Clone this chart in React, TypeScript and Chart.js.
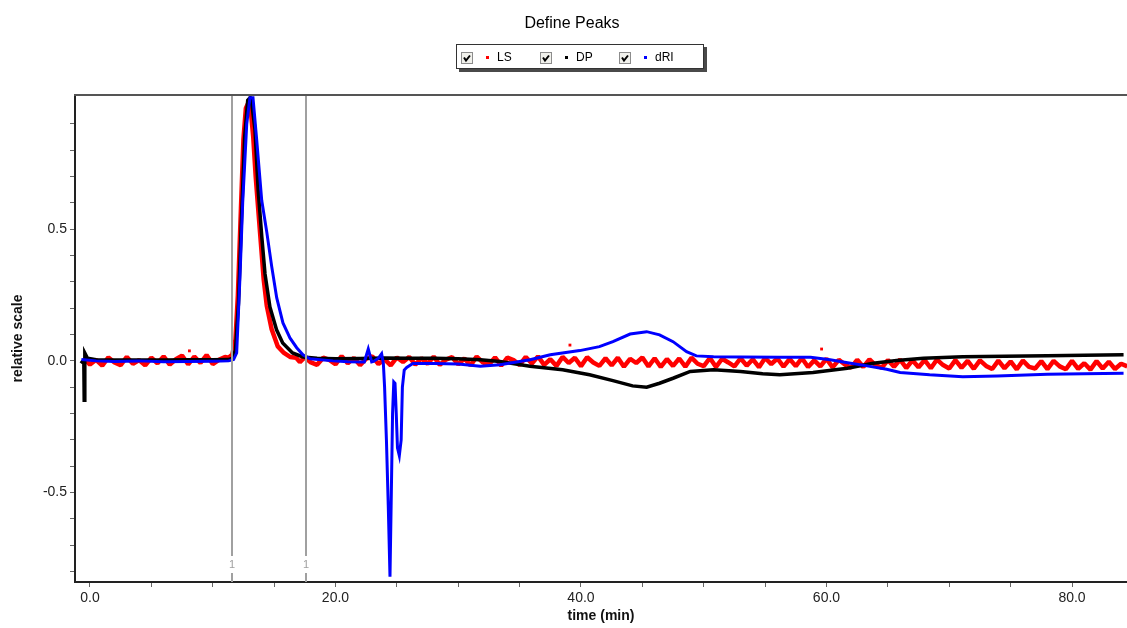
import React, { useEffect, useRef } from 'react';
import { Chart, registerables } from 'chart.js';

Chart.register(...registerables);

const chartTitle = 'Define Peaks';
const seriesNames = ['LS', 'DP', 'dRI'];
const seriesColors = ['#ff0000', '#000000', '#0000ff'];
const xAxisTitle = 'time (min)';
const yAxisTitle = 'relative scale';
const xTickValues = [0, 5, 10, 15, 20, 25, 30, 35, 40, 45, 50, 55, 60, 65, 70, 75, 80];
const yTickValues = [-0.8, -0.7, -0.6, -0.5, -0.4, -0.3, -0.2, -0.1, 0, 0.1, 0.2, 0.3, 0.4, 0.5, 0.6, 0.7, 0.8, 0.9];
const peakBoundaries = [11.55, 17.6];
const peakLabels = ['1', '1'];

// dRI (blue)
const driTime = [-0.7, 0.5, 2, 4, 6, 8, 10, 11.3, 11.7, 11.95, 12.22, 12.44, 12.77, 13.03, 13.28, 13.58, 13.99, 14.4, 14.8, 15.21, 15.72, 16.29, 16.84, 17.35, 17.92, 19.8, 21, 22.35, 22.67, 22.95, 23.1, 23.5, 23.76, 23.9, 24.0, 24.15, 24.3, 24.44, 24.55, 24.65, 24.75, 24.85, 24.95, 25.05, 25.2, 25.35, 25.45, 25.6, 25.8, 26.3, 28, 30, 31.8, 33.4, 35.85, 37.5, 39.9, 41.5, 42.6, 44, 45.35, 46.4, 47.5, 48.6, 49.4, 50.8, 53, 56.2, 58.7, 60.3, 61.6, 63.3, 64.9, 66, 68.4, 71.1, 73.9, 78, 81, 84.2];
const driValue = [0.005, 0.0, -0.002, 0.0, -0.003, -0.002, -0.001, 0.0, 0.005, 0.03, 0.32, 0.6, 0.9, 1.0, 1.0, 0.84, 0.61, 0.49, 0.36, 0.24, 0.144, 0.087, 0.05, 0.023, 0.008, 0.0, -0.003, -0.004, 0.045, -0.004, -0.002, 0.01, 0.027, -0.01, -0.1, -0.3, -0.55, -0.82, -0.5, -0.2, -0.08, -0.085, -0.2, -0.33, -0.36, -0.3, -0.1, -0.035, -0.025, -0.01, -0.01, -0.012, -0.02, -0.015, 0.004, 0.023, 0.039, 0.054, 0.073, 0.102, 0.111, 0.099, 0.073, 0.035, 0.019, 0.016, 0.015, 0.014, 0.014, 0.004, -0.006, -0.019, -0.032, -0.044, -0.053, -0.06, -0.057, -0.051, -0.049, -0.047];

// DP (black)
const dpTime = [-0.75, -0.5, -0.47, -0.42, -0.2, 0.5, 2, 4, 6, 8, 10, 11.3, 11.6, 11.85, 12.1, 12.35, 12.6, 12.85, 13.05, 13.2, 13.44, 13.7, 14.0, 14.26, 14.66, 15.2, 15.7, 16.5, 17.35, 18.5, 20, 22, 24, 26, 28, 30, 31.8, 33.4, 35.85, 38.5, 40.7, 42.6, 44.2, 45.35, 46.4, 47.5, 48.9, 50.8, 53, 54.8, 56.2, 58.9, 61.7, 63.8, 65.7, 67.9, 71.1, 74.5, 78, 81, 84.2];
const dpValue = [0.0, -0.01, -0.15, 0.03, 0.01, 0.004, 0.003, 0.003, 0.003, 0.004, 0.004, 0.005, 0.01, 0.04, 0.22, 0.55, 0.85, 0.99, 1.0, 0.97, 0.88, 0.65, 0.47, 0.33, 0.205, 0.118, 0.068, 0.03, 0.015, 0.01, 0.008, 0.009, 0.011, 0.01, 0.01, 0.008, 0.004, -0.002, -0.02, -0.034, -0.053, -0.075, -0.095, -0.1, -0.085, -0.066, -0.04, -0.034, -0.04, -0.049, -0.053, -0.044, -0.028, -0.009, 0.001, 0.01, 0.016, 0.018, 0.019, 0.021, 0.023];

// LS (red)
const lsTime = [
  -0.5, 0, 0.5, 1, 1.5, 2, 2.5, 3, 3.5, 4, 4.5, 5, 5.5, 6, 6.5, 7, 7.5, 8, 8.5, 9, 9.5, 10, 10.5, 11,
  11.3, 11.6, 11.85, 12.05, 12.3, 12.5, 12.7, 12.9, 13.1, 13.3, 13.5, 13.75, 13.95, 14.15, 14.4, 14.8, 15.3, 15.8, 16.3, 16.8, 17.1,
  17.5, 18, 18.5, 19, 19.5, 20, 20.5, 21, 21.5, 22,
  22.5, 23, 23.5, 24, 24.5, 25, 25.5, 26, 26.5, 27,
  27.5, 28, 28.5, 29, 29.5, 30, 30.5, 31, 31.5, 32,
  32.5, 33, 33.5, 34, 34.5, 35, 35.5, 36, 36.5, 37,
  37.5, 38, 38.5, 39, 39.5, 40, 40.5, 41, 41.5, 42,
  42.5, 43, 43.5, 44, 44.5, 45, 45.5, 46, 46.5, 47,
  47.5, 48, 48.5, 49, 49.5, 50, 50.5, 51, 51.5, 52,
  52.5, 53, 53.5, 54, 54.5, 55, 55.5, 56, 56.5, 57,
  57.5, 58, 58.5, 59, 59.5, 60, 60.5, 61, 61.5, 62,
  62.5, 63, 63.5, 64, 64.5, 65, 65.5, 66, 66.5, 67,
  67.5, 68, 68.5, 69, 69.5, 70, 70.5, 71, 71.5, 72,
  72.5, 73, 73.5, 74, 74.5, 75, 75.5, 76, 76.5, 77,
  77.5, 78, 78.5, 79, 79.5, 80, 80.5, 81, 81.5, 82,
  82.5, 83, 83.5, 84, 84.5,
];
const lsValue = [
  0.01, -0.014, 0.004, -0.018, 0.013, -0.006, -0.016, 0.015, -0.011, 0.003, -0.017, 0.012, -0.009, 0.017, -0.014, 0.006, 0.02, -0.013, 0.016, -0.008, 0.022, -0.012, 0.004, 0.015,
  0.012, 0.025, 0.08, 0.25, 0.58, 0.84, 0.96, 0.98, 0.95, 0.85, 0.7, 0.55, 0.43, 0.31, 0.21, 0.12, 0.055, 0.03, 0.015, 0.012, -0.005,
  0.014, -0.006, -0.015, 0.012, 0.004, -0.013, 0.018, -0.009, 0.011, -0.016,
  0.008, 0.017, -0.012, 0.006, -0.017, 0.013, -0.004, 0.015, -0.014, 0.01,
  -0.011, 0.016, -0.015, 0.005, 0.014, -0.013, 0.009, -0.017, 0.016, -0.006,
  -0.014, 0.013, -0.018, 0.012, 0.003, -0.016, 0.015, -0.01, 0.017, -0.015,
  0.006, -0.019, 0.015, -0.008, 0.012, -0.02, 0.014, -0.006, -0.019, 0.01,
  -0.017, 0.012, -0.022, 0.008, -0.008, 0.013, -0.021, 0.01, -0.023, 0.007,
  -0.019, 0.009, -0.022, 0.012, -0.011, -0.02, 0.011, -0.023, 0.008, -0.006,
  -0.021, 0.01, -0.018, 0.006, -0.024, 0.011, -0.012, 0.009, -0.022, 0.007,
  -0.02, 0.01, -0.023, 0.002, -0.021, 0.008, -0.025, 0.004, -0.014, -0.026,
  0.004, -0.023, 0.006, -0.017, -0.026, 0.003, -0.022, 0.005, -0.027, 0.002,
  -0.024, 0.003, -0.028, 0.005, -0.016, -0.029, 0.003, -0.026, 0.0, -0.03,
  0.002, -0.019, -0.031, 0.001, -0.028, -0.002, -0.032, 0.001, -0.023, -0.029,
  -0.001, -0.031, 0.0, -0.021, -0.032, 0.0, -0.03, -0.009, -0.033, -0.001,
  -0.029, -0.003, -0.031, -0.011, -0.021,
];
const lsOutlierTime = [8.1, 39.1, 59.6];
const lsOutlierValue = [0.038, 0.06, 0.045];

const FONT = '"Liberation Sans", Arial, sans-serif';

const toPoints = (xs: number[], ys: number[]) => xs.map((x, i) => ({ x, y: ys[i] }));

const decorPlugin = {
  id: 'decor',
  beforeDraw(chart: any) {
    const { ctx, width, height } = chart;
    ctx.save();
    ctx.fillStyle = '#ffffff';
    ctx.fillRect(0, 0, width, height);
    ctx.restore();
  },
  afterDatasetsDraw(chart: any) {
    const { ctx, chartArea, scales } = chart;
    ctx.save();
    peakBoundaries.forEach((t, i) => {
      const x = Math.round(scales.x.getPixelForValue(t));
      ctx.strokeStyle = '#a0a0a0';
      ctx.lineWidth = 2;
      ctx.beginPath();
      ctx.moveTo(x, chartArea.top);
      ctx.lineTo(x, chartArea.bottom - 26);
      ctx.moveTo(x, chartArea.bottom - 9);
      ctx.lineTo(x, chartArea.bottom);
      ctx.stroke();
      ctx.fillStyle = '#a0a0a0';
      ctx.font = `11px ${FONT}`;
      ctx.textAlign = 'center';
      ctx.textBaseline = 'middle';
      ctx.fillText(peakLabels[i], x, chartArea.bottom - 17);
    });
    ctx.strokeStyle = '#555555';
    ctx.lineWidth = 2;
    ctx.beginPath();
    ctx.moveTo(chartArea.left - 1, chartArea.top);
    ctx.lineTo(chartArea.right, chartArea.top);
    ctx.stroke();
    ctx.restore();
  },
  afterDraw(chart: any) {
    const { ctx } = chart;
    ctx.save();
    ctx.fillStyle = '#000';
    ctx.font = `16px ${FONT}`;
    ctx.textAlign = 'center';
    ctx.textBaseline = 'middle';
    ctx.fillText(chartTitle, 572, 24);
    const lx = 456, ly = 44, lw = 248, lh = 25;
    ctx.fillStyle = '#4a4a4a';
    ctx.fillRect(lx + 3, ly + 3, lw, lh);
    ctx.fillStyle = '#ffffff';
    ctx.fillRect(lx, ly, lw, lh);
    ctx.strokeStyle = '#333333';
    ctx.lineWidth = 1;
    ctx.strokeRect(lx + 0.5, ly + 0.5, lw - 1, lh - 1);
    seriesNames.forEach((name, i) => {
      const cb = 461 + i * 79;
      const cy = 52;
      ctx.fillStyle = '#f1f1ec';
      ctx.fillRect(cb, cy, 12, 12);
      ctx.strokeStyle = '#8c8c8c';
      ctx.lineWidth = 1;
      ctx.strokeRect(cb + 0.5, cy + 0.5, 11, 11);
      ctx.strokeStyle = '#000';
      ctx.lineWidth = 2;
      ctx.beginPath();
      ctx.moveTo(cb + 3, cy + 5.5);
      ctx.lineTo(cb + 5, cy + 8.5);
      ctx.lineTo(cb + 9, cy + 3.5);
      ctx.stroke();
      ctx.fillStyle = seriesColors[i];
      ctx.fillRect(486 + i * 79, 56, 3, 3);
      ctx.fillStyle = '#000';
      ctx.font = `12px ${FONT}`;
      ctx.textAlign = 'left';
      ctx.textBaseline = 'middle';
      ctx.fillText(name, 497 + i * 79, 58);
    });
    ctx.restore();
  },
};

export default function App() {
  const canvasRef = useRef<HTMLCanvasElement | null>(null);

  useEffect(() => {
    if (!canvasRef.current) return;
    const chart = new Chart(canvasRef.current, {
      type: 'scatter',
      data: {
        datasets: [
          {
            label: seriesNames[2],
            data: toPoints(driTime, driValue),
            showLine: true,
            borderColor: seriesColors[2],
            borderWidth: 3,
            pointRadius: 0,
            tension: 0,
          },
          {
            label: seriesNames[1],
            data: toPoints(dpTime, dpValue),
            showLine: true,
            borderColor: seriesColors[1],
            borderWidth: 3.5,
            pointRadius: 0,
            tension: 0,
          },
          {
            label: seriesNames[0],
            data: toPoints(lsTime, lsValue),
            showLine: true,
            borderColor: seriesColors[0],
            borderWidth: 4.5,
            borderJoinStyle: 'bevel',
            pointRadius: 0,
            tension: 0,
          },
          {
            label: seriesNames[0] + ' outliers',
            data: toPoints(lsOutlierTime, lsOutlierValue),
            showLine: false,
            backgroundColor: seriesColors[0],
            borderWidth: 0,
            pointStyle: 'rect',
            pointRadius: 2,
          },
        ],
      },
      options: {
        animation: false,
        responsive: false,
        layout: { autoPadding: false, padding: { top: 95, left: 0, right: 0, bottom: 0 } },
        plugins: {
          legend: { display: false },
          tooltip: { enabled: false },
          title: { display: false },
        },
        scales: {
          x: {
            type: 'linear',
            min: -1.22,
            max: 84.48,
            afterBuildTicks: (s: any) => {
              s.ticks = xTickValues.map((v) => ({ value: v }));
            },
            afterFit: (s: any) => {
              s.height = 46;
              s.paddingLeft = 0;
              s.paddingRight = 0;
            },
            ticks: {
              autoSkip: false,
              maxRotation: 0,
              padding: 3,
              color: '#222',
              font: { family: FONT, size: 14 },
              callback: (v: any) => (Number(v) % 20 === 0 ? Number(v).toFixed(1) : ''),
            },
            grid: { drawOnChartArea: false, drawTicks: true, tickLength: 5, color: '#666' },
            border: { display: true, color: '#222', width: 2 },
            title: {
              display: true,
              text: xAxisTitle,
              color: '#111',
              font: { family: FONT, size: 14, weight: 'bold' },
              padding: { top: 0, bottom: 3 },
            },
          },
          y: {
            type: 'linear',
            min: -0.84,
            max: 1.01,
            afterBuildTicks: (s: any) => {
              s.ticks = yTickValues.map((v) => ({ value: v }));
            },
            afterFit: (s: any) => {
              s.width = 75;
              s.paddingTop = 0;
              s.paddingBottom = 0;
            },
            ticks: {
              autoSkip: false,
              padding: 3,
              color: '#222',
              font: { family: FONT, size: 14 },
              callback: (v: any) => {
                const n = Number(v);
                return Math.abs(n * 2 - Math.round(n * 2)) < 1e-9 ? n.toFixed(1) : '';
              },
            },
            grid: { drawOnChartArea: false, drawTicks: true, tickLength: 5, color: '#666' },
            border: { display: true, color: '#222', width: 2 },
            title: {
              display: true,
              text: yAxisTitle,
              color: '#111',
              font: { family: FONT, size: 14, weight: 'bold' },
              padding: { top: 10, bottom: 0 },
            },
          },
        },
      },
      plugins: [decorPlugin],
    });
    return () => chart.destroy();
  }, []);

  return (
    <div style={{ position: 'absolute', left: 0, top: 0, width: 1127, height: 628 }}>
      <canvas ref={canvasRef} width={1127} height={628} style={{ display: 'block' }} />
    </div>
  );
}
